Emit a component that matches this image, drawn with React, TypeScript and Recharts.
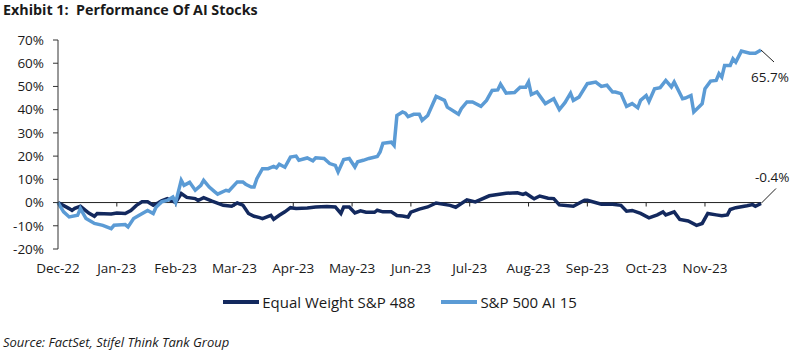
import { LineChart, Line, XAxis, YAxis, ReferenceLine, Legend, LabelList } from 'recharts';

// Trading-day index since 30-Dec-22, one axis label every 21 sessions
const months = ['Dec-22', 'Jan-23', 'Feb-23', 'Mar-23', 'Apr-23', 'May-23', 'Jun-23', 'Jul-23', 'Aug-23', 'Sep-23', 'Oct-23', 'Nov-23'];
const monthTicks = months.map((_, k) => k * 21);
const yTicks = [-20, -10, 0, 10, 20, 30, 40, 50, 60, 70];

// S&P 500 AI 15 (% return)
const aiDays = [0, 2, 4, 7, 8, 10, 12, 13, 16, 19, 20, 24, 25, 27, 29, 32, 34, 35, 37, 39, 41, 42, 44, 45, 47, 49, 51, 52, 54, 56, 57, 60, 61, 64, 66, 67, 69, 70, 71, 73, 75, 77, 78, 79, 81, 83, 85, 86, 89, 91, 92, 95, 97, 99, 100, 102, 104, 106, 107, 109, 111, 114, 115, 116, 119, 120, 121, 123, 124, 125, 127, 129, 130, 132, 135, 138, 139, 143, 144, 146, 148, 151, 153, 155, 157, 158, 160, 163, 165, 167, 168, 169, 171, 174, 177, 179, 181, 183, 184, 186, 189, 192, 194, 196, 198, 199, 201, 203, 205, 207, 208, 210, 211, 213, 215, 217, 219, 220, 223, 224, 226, 227, 229, 230, 231, 233, 235, 236, 237, 238, 240, 241, 242, 244, 247, 249, 251];
const aiValues = [0, -4.0, -6.2, -5.5, -2.6, -6.9, -8.3, -9.0, -9.8, -11.2, -9.8, -9.5, -10.5, -6.9, -5.5, -3.4, -4.7, -2.0, 0.3, 0.9, 2.4, 0, 9.6, 7.4, 8.7, 5.3, 7.4, 9.6, 6.7, 4.6, 3.6, 5.3, 5.0, 8.9, 8.9, 7.9, 6.7, 6.7, 10.3, 14.6, 14.6, 15.6, 15.0, 16.5, 15.2, 19.6, 20.0, 18.2, 19.2, 18.0, 19.3, 19.0, 16.8, 16.0, 13.2, 18.5, 19.0, 15.3, 17.6, 18.2, 19.0, 19.8, 21.8, 25.5, 26.0, 24.6, 37.5, 39.0, 38.5, 37.0, 38.0, 38.0, 35.4, 37.5, 45.7, 44.0, 41.1, 38.0, 40.4, 43.3, 43.3, 41.4, 44.0, 48.3, 48.5, 51.0, 47.1, 47.4, 49.7, 49.7, 51.9, 46.5, 47.6, 42.6, 44.7, 40.0, 43.0, 47.1, 44.0, 45.4, 51.2, 51.9, 50.0, 50.5, 47.6, 47.6, 46.9, 41.4, 42.6, 40.8, 44.0, 46.1, 43.5, 49.0, 49.5, 52.6, 49.8, 51.9, 44.7, 45.0, 46.1, 39.0, 41.4, 42.6, 49.0, 52.3, 52.6, 55.5, 54.0, 59.0, 59.0, 61.9, 60.5, 65.2, 64.3, 64.3, 65.7];

// Equal Weight S&P 488 (% return)
const eqDays = [0, 4, 5, 6, 8, 11, 13, 14, 19, 21, 24, 26, 28, 30, 32, 34, 36, 37, 39, 42, 44, 46, 49, 50, 52, 55, 59, 62, 64, 66, 68, 70, 72, 73, 76, 77, 79, 81, 83, 85, 89, 92, 96, 99, 101, 102, 104, 106, 108, 110, 113, 114, 116, 119, 121, 123, 125, 126, 129, 132, 135, 140, 142, 146, 149, 154, 160, 164, 166, 167, 169, 170, 172, 175, 177, 179, 184, 188, 189, 194, 198, 201, 203, 205, 208, 211, 214, 216, 217, 220, 222, 225, 228, 230, 232, 235, 237, 239, 240, 242, 246, 248, 249, 251];
const eqValues = [0, -2.6, -3.4, -2.5, -1.6, -4.5, -5.9, -4.7, -4.9, -4.5, -4.7, -3.4, -1.2, 0.3, 0.3, -1.2, 0, 0.8, 1.7, 0, 3.9, 2.2, 1.7, 0.9, 2.1, 0.6, -1.2, -1.6, -0.2, -1.1, -4.7, -5.9, -6.5, -6.9, -5.5, -7.2, -5.5, -4.0, -2.2, -2.6, -2.3, -1.9, -1.7, -1.9, -4.7, -1.9, -1.9, -4.5, -3.6, -4.2, -4.2, -3.3, -4.0, -4.0, -5.6, -5.8, -6.2, -4.1, -2.8, -1.9, -0.2, -1.2, -2.0, 1.2, 0.3, 2.9, 4.0, 4.2, 3.5, 4.0, 2.4, 1.6, 2.8, 1.9, 1.7, -1.0, -1.6, 1.0, 1.0, -0.7, -0.7, -1.2, -3.7, -3.4, -4.7, -6.6, -5.3, -4.0, -5.3, -4.0, -7.3, -7.9, -9.8, -9.0, -4.7, -5.3, -5.7, -5.3, -3.0, -2.2, -1.4, -0.9, -1.6, -0.4];

const aiData = aiDays.map((day, k) => ({ day, value: aiValues[k] }));
const eqData = eqDays.map((day, k) => ({ day, value: eqValues[k] }));

const DARK = '#13295E';
const LIGHT = '#5B9BD5';
const TEXT = '#1a1a1a';
const FONT = '"Open Sans", sans-serif';

const series = [
  { name: 'Equal Weight S&P 488', color: DARK },
  { name: 'S&P 500 AI 15', color: LIGHT },
];

const makeEndLabel = (last: number, dx: number, dy: number, tx: number, ty: number) => (props: any) => {
  const { x, y, index, value } = props;
  if (index !== last) return null;
  return (
    <g>
      <line x1={x} y1={y} x2={x + dx} y2={y + dy} stroke="#222" strokeWidth={1} />
      <text x={x + tx} y={y + ty} fontSize={13.5} fill={TEXT} fontFamily={FONT}>
        {`${Number(value).toFixed(1)}%`}
      </text>
    </g>
  );
};

const LegendContent = () => (
  <div style={{ width: 800, display: 'flex', justifyContent: 'center', gap: 26, fontFamily: FONT, fontSize: 15, color: TEXT }}>
    {series.map(s => (
      <div key={s.name} style={{ display: 'flex', alignItems: 'center' }}>
        <svg width={36} height={6} style={{ marginRight: 3 }}>
          <line x1={0} y1={3} x2={36} y2={3} stroke={s.color} strokeWidth={4} />
        </svg>
        <span>{s.name}</span>
      </div>
    ))}
  </div>
);

export default function App() {
  return (
    <div style={{ position: 'absolute', left: 0, top: 0, width: 800, height: 350, background: '#fff' }}>
      <div style={{ position: 'absolute', left: 3, top: 0, fontFamily: FONT, fontWeight: 700, fontSize: 14.3, color: TEXT, lineHeight: '20px', whiteSpace: 'pre' }}>
        {'Exhibit 1:  Performance Of AI Stocks'}
      </div>
      <LineChart width={800} height={320} margin={{ top: 40, right: 39, left: 0, bottom: 8 }}>
        <XAxis
          dataKey="day"
          type="number"
          domain={[0, 251]}
          ticks={monthTicks}
          tickFormatter={(v: number) => months[Math.round(v / 21)]}
          axisLine={false}
          tickLine={false}
          tickMargin={8}
          height={43}
          tick={{ fontSize: 13.5, fill: TEXT, fontFamily: FONT }}
        />
        <YAxis
          domain={[-20, 70]}
          ticks={yTicks}
          tickFormatter={(v: number) => `${v}%`}
          width={58}
          stroke="#333"
          tickSize={5}
          tickMargin={9}
          tick={{ fontSize: 13.5, fill: TEXT, fontFamily: FONT }}
        />
        <ReferenceLine y={0} stroke="#222" strokeWidth={1} />
        {monthTicks.slice(1).map(t => (
          <ReferenceLine key={t} segment={[{ x: t, y: 0 }, { x: t, y: -1.7 }]} stroke="#222" strokeWidth={1} />
        ))}
        <Legend verticalAlign="bottom" wrapperStyle={{ left: 0, width: 800 }} content={<LegendContent />} />
        <Line data={eqData} dataKey="value" name={series[0].name} stroke={DARK} strokeWidth={3.5} dot={false} isAnimationActive={false}>
          <LabelList dataKey="value" content={makeEndLabel(eqData.length - 1, 15, -15, -6, -21)} />
        </Line>
        <Line data={aiData} dataKey="value" name={series[1].name} stroke={LIGHT} strokeWidth={3.5} dot={false} isAnimationActive={false}>
          <LabelList dataKey="value" content={makeEndLabel(aiData.length - 1, 13, 12, -10, 32)} />
        </Line>
      </LineChart>
      <div style={{ position: 'absolute', left: 3, top: 333, fontFamily: FONT, fontStyle: 'italic', fontSize: 13, color: TEXT, lineHeight: '18px' }}>
        Source: FactSet, Stifel Think Tank Group
      </div>
    </div>
  );
}
